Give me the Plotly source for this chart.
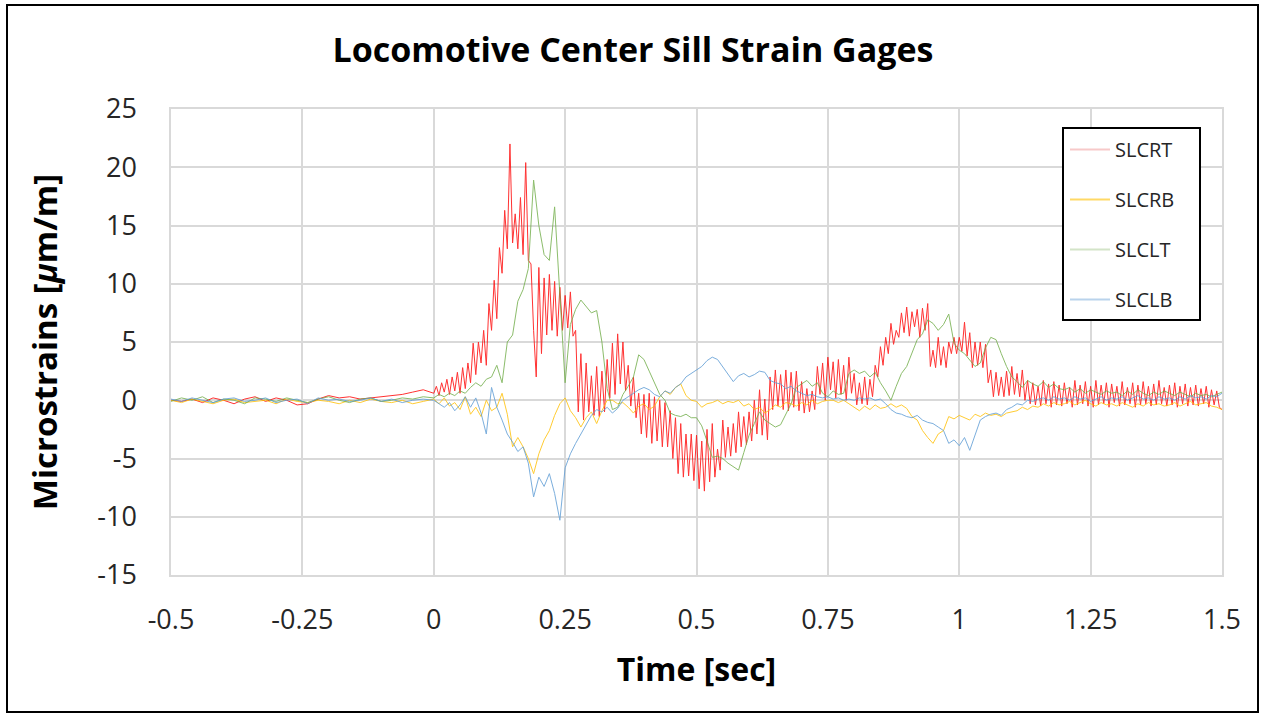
import numpy as np
import plotly.graph_objects as go

t_pre = np.round(np.arange(-0.5, -0.019, 0.02), 3)        # 25 samples, -0.50 .. -0.02
t_fast = np.round(np.arange(0.0, 1.5001, 0.005), 3)       # 301 samples, 0 .. 1.5
t_slow = np.round(np.arange(0.0, 1.5001, 0.01), 3)        # 151 samples, 0 .. 1.5

series_names = ["SLCRT", "SLCRB", "SLCLT", "SLCLB"]

# ---- SLCRT (red) ----
slcrt_pre = [0.0, -0.1, 0.1, -0.2, 0.2, 0.0, -0.3, 0.1, 0.3, -0.1, 0.2, 0.0, -0.4,
             -0.3, 0.1, 0.4, 0.2, 0.3, 0.1, 0.2, 0.3, 0.4, 0.5, 0.7, 0.9]
slcrt = [
    0.6, 1.2, 0.4, 1.5, 0.7, 1.8, 0.5, 2.0, 0.8, 2.4,
    0.6, 2.8, 1.0, 3.2, 1.5, 4.9, 2.2, 5.0, 3.2, 6.0,
    3.0, 8.3, 6.0, 10.3, 7.0, 13.1, 10.9, 16.3, 13.0, 22.0,
    13.5, 16.0, 13.0, 17.4, 12.5, 20.4, 12.0, 11.7, 6.0, 2.0,
    11.4, 4.0, 10.5, 5.6, 10.8, 6.0, 10.2, 5.5, 9.7, 6.0,
    9.0, 6.2, 9.3, 5.5, 6.0, -1.0, 4.0, -1.7, 3.2, -1.0,
    2.1, -1.3, 2.9, -1.4, 2.5, -1.0, 3.5, 0.2, 4.9, 0.5,
    5.7, 1.4, 5.0, 0.8, 3.0, -0.5, 2.0, -1.5, 0.6, -2.9,
    0.5, -3.2, 0.6, -3.7, 0.3, -3.5, 0.0, -4.0, -0.2, -4.0,
    -0.9, -5.0, -1.5, -6.3, -2.0, -6.6, -2.9, -6.5, -2.9, -6.9,
    -3.0, -7.6, -3.5, -7.8, -2.5, -7.0, -2.0, -6.6, -4.2, -6.0,
    -1.7, -4.9, -2.3, -4.8, -2.0, -4.5, -1.0, -4.0, -1.4, -3.8,
    -1.0, -3.5, 0.0, -2.9, 0.9, -3.0, 0.1, -3.4, 2.0, -0.8,
    2.6, -0.5, 2.2, -0.8, 2.6, -0.9, 2.4, -0.6, 2.5, -0.9,
    1.6, -1.1, 1.0, -1.0, 0.8, -0.8, 2.9, 0.5, 3.2, 0.0,
    3.7, 0.9, 3.3, 0.2, 3.5, 0.5, 3.0, 0.0, 3.7, 0.6,
    2.3, -0.4, 1.5, -0.3, 2.0, -0.4, 1.8, 0.3, 3.0, 2.0,
    4.6, 3.0, 5.4, 4.0, 6.6, 4.8, 6.0, 5.4, 7.5, 5.8,
    8.0, 5.5, 7.6, 6.3, 7.8, 5.4, 7.9, 6.0, 8.3, 2.9,
    4.3, 2.8, 5.4, 3.0, 4.6, 2.8, 5.0, 4.0, 5.4, 4.0,
    5.4, 4.2, 6.7, 3.8, 5.8, 2.8, 5.0, 3.0, 5.0, 2.8,
    4.8, 1.5, 2.6, 0.3, 2.4, 0.4, 2.0, 0.3, 2.5, 0.4,
    2.9, 0.5, 2.3, 0.3, 2.6, 0.0, 1.7, -0.3, 1.5, -0.4,
    1.2, -0.5, 1.7, -0.3, 1.4, -0.6, 1.6, -0.4, 1.3, -0.5,
    1.5, -0.3, 1.1, -0.6, 1.7, -0.4, 1.3, -0.3, 1.6, -0.5,
    1.2, -0.6, 1.7, -0.4, 1.3, -0.3, 1.5, -0.6, 1.4, -0.2,
    1.2, -0.5, 1.6, -0.4, 1.1, -0.3, 1.5, -0.6, 1.3, -0.4,
    1.6, -0.3, 1.2, -0.5, 1.4, -0.4, 1.7, -0.3, 1.1, -0.5,
    1.3, -0.4, 1.5, -0.6, 1.2, -0.3, 1.4, -0.5, 1.1, -0.4,
    1.3, -0.5, 1.0, -0.3, 1.2, -0.6, 0.9, -0.4, 0.8, -0.6, -0.8,
]

# ---- SLCRB (yellow) ----
slcrb_pre = [0.0, -0.2, 0.1, -0.1, -0.3, 0.0, 0.1, -0.2, -0.1, 0.0, -0.3, 0.1, -0.1,
             -0.2, 0.0, -0.1, -0.3, 0.0, -0.2, 0.1, -0.1, -0.2, 0.0, -0.3, -0.1]
slcrb = [
    0.1, -0.3, 0.2, -0.5, -0.2, -0.8, 0.3, -1.2, -0.6, -1.4,
    0.0, -0.9, -0.6, 0.6, -1.2, -4.0, -3.2, -4.0, -5.0, -6.3,
    -4.6, -3.4, -2.6, -1.3, -0.3, 0.2, -0.9, -1.5, -2.3, -1.5,
    -1.0, -2.0, -0.9, 0.0, 0.0, -0.3, -0.2, -0.6, -1.1, -0.5,
    -0.3, -0.8, -0.5, 0.3, 0.8, 0.5, 1.1, 1.4, 0.4, 0.0,
    -0.1, -0.6, -0.3, -0.2, 0.0, -0.3, -0.1, -0.2, 0.0, -0.5,
    -0.3, -0.8, -0.6, -1.1, -0.8, -0.4, -0.6, -0.2, -0.3, -0.5,
    -0.2, -0.4, 0.0, -0.3, -0.1, 0.0, 0.0, -0.2, 0.0, -0.3,
    -0.6, -0.9, -0.5, -0.8, -0.4, -0.7, -0.6, -0.3, -0.6, -0.4,
    -0.7, -1.4, -1.7, -2.6, -3.2, -3.7, -2.9, -2.6, -1.4, -1.6,
    -1.3, -1.5, -1.7, -1.2, -1.4, -1.1, -1.3, -1.2, -1.4, -1.1,
    -1.0, -0.9, -0.6, -0.8, -0.5, -0.6, -0.3, -0.5, -0.2, -0.4,
    -0.3, -0.1, -0.4, -0.2, 0.0, -0.3, -0.5, -0.2, -0.4, -0.3,
    -0.5, -0.2, -0.4, -0.6, -0.3, -0.5, -0.2, -0.4, -0.3, -0.5,
    -0.4, -0.2, -0.5, -0.3, -0.1, -0.4, -0.3, -0.2, -0.5, -0.6,
    -0.8,
]

# ---- SLCLT (green) ----
slclt_pre = [-0.1, 0.2, 0.0, 0.3, -0.2, 0.1, 0.0, -0.3, 0.2, 0.1, -0.1, 0.2, 0.0,
             -0.2, 0.1, 0.3, 0.0, -0.2, 0.1, 0.2, -0.1, 0.0, 0.2, 0.1, 0.3]
slclt = [
    0.2, 0.5, 0.3, 0.6, 0.4, 0.8, 0.6, 1.1, 1.5, 1.2,
    1.8, 2.0, 3.0, 1.5, 5.0, 5.6, 8.5, 9.5, 11.3, 18.9,
    15.0, 12.5, 12.0, 16.6, 9.0, 1.5, 6.5, 7.8, 8.6, 8.0,
    7.5, 7.7, 5.0, 1.0, -0.8, -0.6, 0.5, 1.2, 2.0, 3.9,
    3.5, 2.5, 1.5, 0.5, 0.0, -1.1, -1.3, -1.4, -1.2, -1.5,
    -1.5, -2.2, -3.5, -4.9, -4.8, -5.0, -5.4, -5.7, -6.0, -4.5,
    -3.0, -2.0, -1.0, -1.7, -2.0, -2.3, -2.1, -1.2, -0.3, 1.1,
    1.4, 1.7, 1.2, 1.5, 0.6, 0.3, 0.8, 0.5, 0.6, 2.3,
    2.6, 2.3, 2.5, 2.0, 2.4, 1.5, 0.8, 0.0, 1.2, 2.3,
    2.9, 4.0, 5.2, 5.7, 6.9, 6.6, 6.0, 6.5, 7.4, 4.9,
    4.3, 4.0, 3.4, 2.9, 3.2, 4.5, 5.4, 5.2, 4.0, 2.9,
    2.0, 1.6, 1.1, 1.7, 1.4, 1.2, 1.6, 1.1, 1.4, 1.0,
    0.9, 1.1, 0.7, 1.0, 0.6, 0.9, 0.7, 0.5, 0.8, 0.6,
    0.7, 0.4, 0.8, 0.5, 0.9, 0.6, 0.4, 0.7, 0.5, 0.8,
    0.6, 0.4, 0.7, 0.5, 0.3, 0.6, 0.4, 0.5, 0.3, 0.5,
    0.7,
]

# ---- SLCLB (blue) ----
slclb_pre = [0.1, -0.1, 0.2, 0.0, -0.2, 0.1, 0.2, -0.1, 0.0, 0.2, -0.2, 0.0, 0.1,
             -0.3, 0.2, 0.0, 0.1, -0.1, 0.0, 0.2, -0.1, 0.1, -0.2, 0.0, 0.1]
slclb = [
    0.0, -0.3, -0.6, -0.2, -0.9, -0.4, 0.3, -0.6, 0.2, -1.1,
    -2.9, 1.1, -0.6, -1.7, -2.9, -3.6, -4.4, -4.0, -5.4, -8.3,
    -6.6, -7.4, -6.3, -8.0, -10.3, -5.8, -4.6, -3.7, -2.9, -2.0,
    -1.3, -0.8, -1.0, -0.6, -1.1, -0.7, 0.0, 0.3, 0.6, 0.9,
    1.1, 0.9, 0.5, 0.3, 0.8, 0.6, 1.1, 1.4, 2.0, 2.3,
    2.6, 2.9, 3.4, 3.7, 3.5, 2.9, 2.3, 1.6, 2.1, 2.3,
    2.0, 2.2, 2.5, 2.4, 1.7, 1.5, 1.4, 1.0, 1.2, 0.8,
    0.6, 0.4, 0.5, 0.3, 0.2, 0.3, 0.1, 0.2, 0.0, 0.1,
    0.0, 0.2, 0.1, 0.2, 0.0, 0.1, -0.3, -0.8, -1.1, -1.2,
    -1.4, -1.5, -1.3, -1.7, -1.9, -2.0, -2.3, -2.6, -3.7, -3.4,
    -3.9, -3.2, -4.3, -3.0, -1.7, -1.4, -1.2, -1.1, -1.3, -0.8,
    -0.6, -0.3, -0.4, 0.0, -0.1, 0.1, 0.2, 0.0, 0.3, 0.1,
    0.2, 0.0, 0.3, 0.1, 0.2, -0.1, 0.1, 0.3, 0.0, 0.2,
    0.1, 0.3, 0.0, 0.2, 0.4, 0.1, 0.2, 0.0, 0.3, 0.1,
    0.2, 0.0, 0.3, 0.1, 0.4, 0.2, 0.3, 0.1, 0.4, 0.3,
    0.6,
]

x_ticks = [-0.5, -0.25, 0, 0.25, 0.5, 0.75, 1, 1.25, 1.5]
x_tick_labels = ["-0.5", "-0.25", "0", "0.25", "0.5", "0.75", "1", "1.25", "1.5"]
y_ticks = [-15, -10, -5, 0, 5, 10, 15, 20, 25]
y_tick_labels = ["-15", "-10", "-5", "0", "5", "10", "15", "20", "25"]

colors = ["#FF0000", "#FFC000", "#70AD47", "#5B9BD5"]
legend_colors = ["#F7C9C9", "#FFD966", "#D3E4C8", "#B9D3EC"]

xs = [
    np.concatenate([t_pre, t_fast]),
    np.concatenate([t_pre, t_slow]),
    np.concatenate([t_pre, t_slow]),
    np.concatenate([t_pre, t_slow]),
]
ys = [
    slcrt_pre + slcrt,
    slcrb_pre + slcrb,
    slclt_pre + slclt,
    slclb_pre + slclb,
]

FONT = "Open Sans"
W, H = 1263, 716
PL, PR, PT, PB = 171, 1222, 109, 575   # plot area in page pixels


def px_x(p):
    return (p - PL) / (PR - PL)


def px_y(p):
    return (PB - p) / (PB - PT)


fig = go.Figure()
for name, x, y, c in zip(series_names, xs, ys, colors):
    fig.add_trace(go.Scatter(
        x=x, y=y, mode="lines", name=name, legendgroup=name,
        line=dict(color=c, width=1), opacity=0.8, showlegend=False,
    ))
# legend entries (pale sample lines as in the original legend)
for name, lc in zip(series_names, legend_colors):
    fig.add_trace(go.Scatter(
        x=[None], y=[None], mode="lines", name=name, legendgroup=name,
        line=dict(color=lc, width=2), showlegend=True,
    ))

fig.update_layout(
    width=W, height=H,
    margin=dict(l=PL, r=W - PR, t=PT, b=H - PB),
    paper_bgcolor="white", plot_bgcolor="white",
    title=dict(
        text="<b>Locomotive Center Sill Strain Gages</b>",
        x=633 / W, xanchor="center",
        y=1 - 50 / H, yanchor="middle",
        font=dict(family=FONT, size=34, color="black"),
    ),
    font=dict(family=FONT, size=27, color="#262626"),
    legend=dict(
        x=px_x(1065), y=px_y(130),
        xanchor="left", yanchor="top",
        bgcolor="rgba(0,0,0,0)", borderwidth=0,
        font=dict(family=FONT, size=20, color="#262626"),
        tracegroupgap=21, itemwidth=40,
    ),
    showlegend=True,
)
fig.update_xaxes(
    range=[-0.5, 1.5], tickvals=x_ticks, ticktext=x_tick_labels,
    showgrid=True, gridcolor="#D9D9D9", gridwidth=1.5,
    zeroline=True, zerolinecolor="#D9D9D9", zerolinewidth=1.5,
    showline=True, linecolor="#D9D9D9", linewidth=1.5, mirror=True,
    ticks="", ticklabelstandoff=20,
    title=dict(text="<b>Time [sec]</b>", font=dict(family=FONT, size=32, color="black"), standoff=22),
)
fig.update_yaxes(
    range=[-15, 25], tickvals=y_ticks, ticktext=y_tick_labels,
    showgrid=True, gridcolor="#D9D9D9", gridwidth=1.5,
    zeroline=True, zerolinecolor="#D9D9D9", zerolinewidth=1.5,
    showline=True, linecolor="#D9D9D9", linewidth=1.5, mirror=True,
    ticks="", ticklabelstandoff=27,
    title=dict(text="<b>Microstrains [<i>μ</i>m/m]</b>", font=dict(family=FONT, size=33, color="black"), standoff=30),
)

# legend frame
fig.add_shape(
    type="rect", xref="paper", yref="paper",
    x0=px_x(1063), x1=px_x(1200), y0=px_y(320), y1=px_y(128),
    line=dict(color="black", width=2), fillcolor="white", layer="above",
)
# outer chart border
fig.add_shape(
    type="rect", xref="paper", yref="paper",
    x0=px_x(7), x1=px_x(1258), y0=px_y(712), y1=px_y(5),
    line=dict(color="black", width=2), fillcolor="rgba(0,0,0,0)", layer="below",
)

fig.write_html(
    "out.html",
    config={"displayModeBar": False},
    post_script="document.body.style.margin='0';document.body.style.overflow='hidden';",
)
